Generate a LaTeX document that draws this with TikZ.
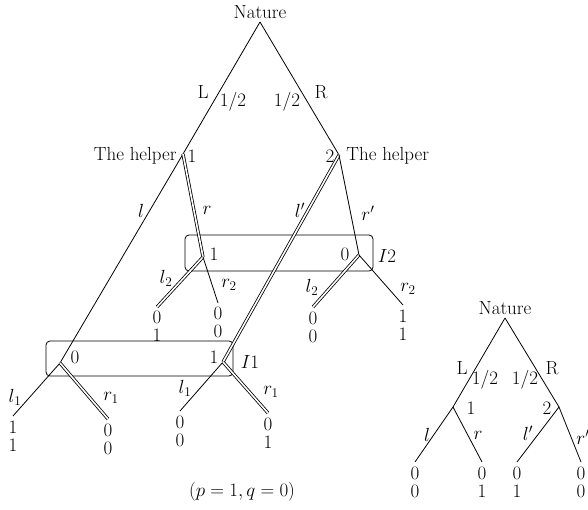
\RequirePackage{fix-cm}
\documentclass[tikz,border=0pt]{standalone}
\usepackage{amsmath}
\usepackage{tikz}
\usetikzlibrary{positioning}

\begin{document}
\begin{tikzpicture}[
  x=1pt, y=-1pt,
  font=\fontsize{19}{17.5}\selectfont,
  line width=0.8pt,
  smove/.style={draw},
  dmove/.style={draw, double, double distance=1.6pt},
  infoset/.style={rectangle, draw, rounded corners=4pt, inner sep=0pt},
  payoff/.style={align=center, inner sep=0pt},
  lbl/.style={inner sep=1pt}
]
\useasboundingbox (0,0) rectangle (588,510);

% Information sets
\node[infoset, minimum width=188pt, minimum height=36pt] (set2) at (279,253) {};
\node[infoset, minimum width=187pt, minimum height=35pt] (set1) at (139.5,358.5) {};
\node[lbl] (lI2) at (387,256) {$I2$};
\node[lbl] (lI1) at (250,362) {$I1$};

% Big tree: decision points
\coordinate (root) at (260,22);
\coordinate (h1) at (183,154);
\coordinate (h2) at (339,155);
\coordinate (a) at (203,257);
\coordinate (b) at (359,255);
\coordinate (c) at (60,363);
\coordinate (d) at (223,362);
% leaves
\coordinate (a1) at (157,307);
\coordinate (a2) at (218,303);
\coordinate (b1) at (313,307);
\coordinate (b2) at (403,305);
\coordinate (c1) at (13,416);
\coordinate (c2) at (108,419);
\coordinate (d1) at (180,411);
\coordinate (d2) at (268,413);

\node[above=0pt of root] (nature) {Nature};
\node[lbl] (nL) at (203,92) {L};
\node[lbl] (nLp) at (233,102) {1/2};
\node[lbl] (nRp) at (287,102) {1/2};
\node[lbl] (nR) at (321,92) {R};
\node[lbl, anchor=east] (help1) at (178,156) {The helper};
\node[lbl] (p1) at (192,156) {1};
\node[lbl] (p2) at (330,156) {2};
\node[lbl, anchor=west] (help2) at (345,156) {The helper};

% Moves
\draw[smove] (root) -- (h1);
\draw[smove] (root) -- (h2);
\draw[smove] (h1) -- (c);
\draw[dmove] (h1) -- (a);
\draw[dmove] (h2) -- (d);
\draw[smove] (h2) -- (b);
\draw[dmove] (a) -- (a1);
\draw[smove] (a) -- (a2);
\draw[dmove] (b) -- (b1);
\draw[smove] (b) -- (b2);
\draw[smove] (c) -- (c1);
\draw[dmove] (c) -- (c2);
\draw[smove] (d) -- (d1);
\draw[dmove] (d) -- (d2);

% Move labels
\node[lbl] (ml) at (141,211) {$l$};
\node[lbl] (mr) at (207,210) {$r$};
\node[lbl] (mlp) at (300,210) {$l'$};
\node[lbl] (mrp) at (368,213) {$r'$};
\node[lbl] (ma1) at (166,278) {$l_2$};
\node[lbl] (ma2) at (229,285) {$r_2$};
\node[lbl] (mb1) at (312,287) {$l_2$};
\node[lbl] (mb2) at (408,289) {$r_2$};
\node[lbl] (mc1) at (15,397) {$l_1$};
\node[lbl] (mc2) at (111,398) {$r_1$};
\node[lbl] (md1) at (185,388) {$l_1$};
\node[lbl] (md2) at (271,392) {$r_1$};
\node[lbl] (va) at (214,254) {1};
\node[lbl] (vb) at (345,254) {0};
\node[lbl] (vc) at (75,357) {0};
\node[lbl] (vd) at (214,357) {1};

% Payoffs
\node[payoff, below=4pt of a1] (pa1) {0\\1};
\node[payoff, below=4pt of a2] (pa2) {0\\0};
\node[payoff, below=5pt of b1] (pb1) {0\\0};
\node[payoff, below=5pt of b2] (pb2) {1\\1};
\node[payoff, below=5pt of c1] (pc1) {1\\1};
\node[payoff, below=5pt of c2] (pc2) {0\\0};
\node[payoff, below=5pt of d1] (pd1) {0\\0};
\node[payoff, below=5pt of d2] (pd2) {0\\1};

\node (caption) at (242,492) {$(p = 1, q = 0)$};

% Small tree
\coordinate (sroot) at (505,318);
\coordinate (s1) at (453,407);
\coordinate (s2) at (559,407);
\coordinate (t1) at (415,462);
\coordinate (t2) at (482,462);
\coordinate (t3) at (517,462);
\coordinate (t4) at (581,462);

\node[above=0pt of sroot] (snature) {Nature};
\draw[smove] (sroot) -- (s1);
\draw[smove] (sroot) -- (s2);
\draw[smove] (s1) -- (t1);
\draw[smove] (s1) -- (t2);
\draw[smove] (s2) -- (t3);
\draw[smove] (s2) -- (t4);

\node[lbl] (sL) at (462,368) {L};
\node[lbl] (sLp) at (485,380) {1/2};
\node[lbl] (sRp) at (525,380) {1/2};
\node[lbl] (sR) at (552,368) {R};
\node[lbl] (sp1) at (471,408) {1};
\node[lbl] (sp2) at (547,408) {2};
\node[lbl] (sl) at (427,435) {$l$};
\node[lbl] (sr) at (478,435) {$r$};
\node[lbl] (slp) at (528,433) {$l'$};
\node[lbl] (srp) at (583,437) {$r'$};

\node[payoff, below=5pt of t1] (pt1) {0\\0};
\node[payoff, below=5pt of t2] (pt2) {0\\1};
\node[payoff, below=5pt of t3] (pt3) {0\\1};
\node[payoff, below=5pt of t4] (pt4) {0\\0};

\end{tikzpicture}
\end{document}
